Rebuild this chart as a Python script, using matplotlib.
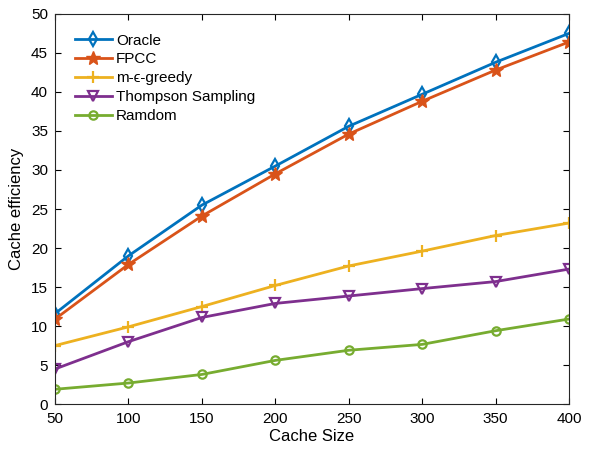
import matplotlib
matplotlib.use('Agg')
import matplotlib.pyplot as plt

plt.rcParams['font.family'] = ['Liberation Sans', 'DejaVu Sans']

cache_size = [50, 100, 150, 200, 250, 300, 350, 400]
oracle = [11.6, 19.0, 25.5, 30.5, 35.6, 39.7, 43.8, 47.5]
fpcc = [10.9, 17.9, 24.1, 29.5, 34.6, 38.8, 42.8, 46.4]
greedy = [7.5, 9.9, 12.5, 15.2, 17.7, 19.6, 21.6, 23.2]
thompson = [4.5, 8.0, 11.1, 12.9, 13.85, 14.8, 15.7, 17.3]
ramdom = [1.9, 2.7, 3.8, 5.6, 6.9, 7.65, 9.4, 10.9]

fig = plt.figure(figsize=(5.92, 4.49), dpi=100)
ax = fig.add_axes([0.093, 0.1, 0.868, 0.869])

ax.plot(cache_size, oracle, color='#0072BD', lw=2, marker='d', ms=7, mfc='none', mew=1.6, label='Oracle')
ax.plot(cache_size, fpcc, color='#D95319', lw=2, marker='*', ms=10, label='FPCC')
ax.plot(cache_size, greedy, color='#EDB120', lw=2, marker='+', ms=8, mew=1.6, label='m-\u03f5-greedy')
ax.plot(cache_size, thompson, color='#7E2F8E', lw=2, marker='v', ms=6.5, mfc='none', mew=1.6, label='Thompson Sampling')
ax.plot(cache_size, ramdom, color='#77AC30', lw=2, marker='o', ms=6, mfc='none', mew=1.6, label='Ramdom')

ax.set_xlim(50, 400)
ax.set_ylim(0, 50)
ax.set_xticks(range(50, 401, 50))
ax.set_yticks(range(0, 51, 5))
ax.tick_params(direction='in', top=True, right=True, labelsize=11, length=4)
ax.tick_params(axis='x', pad=6)
ax.tick_params(axis='y', pad=5)
for s in ax.spines.values():
    s.set_color('#262626')
    s.set_linewidth(0.8)
ax.set_xlabel('Cache Size', fontsize=12, labelpad=2)
ax.set_ylabel('Cache efficiency', fontsize=12, labelpad=5)

ax.legend(loc='upper left', bbox_to_anchor=(0.012, 0.985), frameon=False, fontsize=11,
          handlelength=2.4, labelspacing=0.32, handletextpad=0.3)

fig.savefig('out.png', dpi=100)
